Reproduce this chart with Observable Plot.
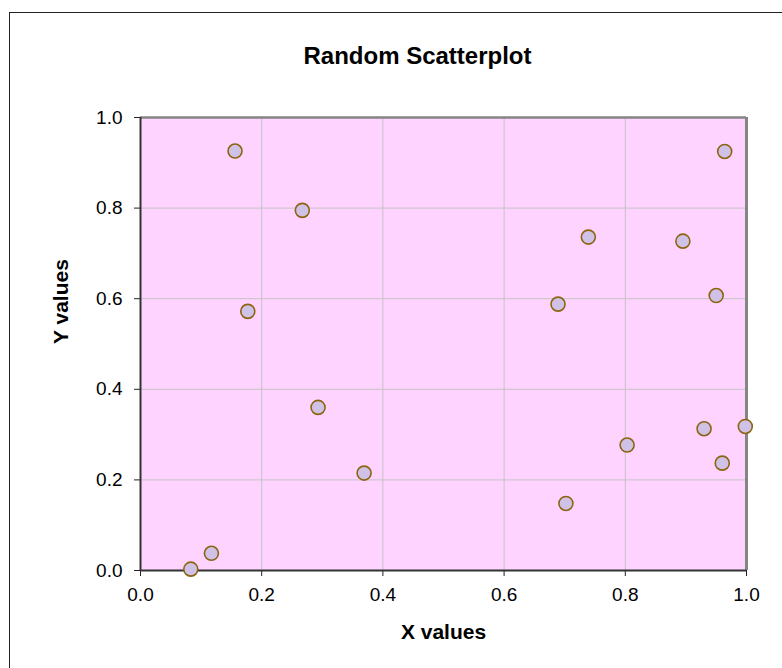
<!DOCTYPE html>
<html>
<head>
<meta charset="utf-8">
<script src="https://cdn.jsdelivr.net/npm/d3@7"></script>
<script src="https://cdn.jsdelivr.net/npm/@observablehq/plot@0.6"></script>
<style>
  html, body { margin: 0; padding: 0; background: #fff; overflow: hidden; }
  #wrap { position: relative; width: 782px; height: 668px; }
  #frame { position: absolute; left: 9px; top: 12px; width: 900px; height: 800px; border: 1px solid #222; box-sizing: border-box; pointer-events: none; }
  #chart { position: absolute; left: 0; top: 0; }
</style>
</head>
<body>
<div id="wrap"><div id="chart"></div><div id="frame"></div></div>
<script>
const titleText = "Random Scatterplot";
const xLabel = "X values";
const yLabel = "Y values";
const tickValues = [0, 0.2, 0.4, 0.6, 0.8, 1.0];
const xValues = [0.083, 0.117, 0.156, 0.177, 0.267, 0.293, 0.369, 0.739, 0.689, 0.964, 0.895, 0.950, 0.702, 0.803, 0.930, 0.998, 0.960];
const yValues = [0.003, 0.038, 0.926, 0.572, 0.795, 0.360, 0.215, 0.736, 0.588, 0.925, 0.727, 0.607, 0.148, 0.277, 0.313, 0.318, 0.237];

const points = xValues.map((x, i) => ({x, y: yValues[i]}));
const fmt = d3.format(".1f");
const font = "'Liberation Sans', Arial, sans-serif";

const chart = Plot.plot({
  width: 782,
  height: 668,
  marginLeft: 140,
  marginRight: 36,
  marginTop: 117,
  marginBottom: 98,
  style: {fontFamily: font, fontSize: "19px", color: "#000", background: "transparent"},
  x: {domain: [0, 1]},
  y: {domain: [0, 1]},
  marks: [
    Plot.frame({fill: "#ffd3ff", stroke: null}),
    Plot.gridX(tickValues, {stroke: "#c4c4c4", strokeOpacity: 1, strokeWidth: 1}),
    Plot.gridY(tickValues, {stroke: "#c4c4c4", strokeOpacity: 1, strokeWidth: 1}),
    Plot.ruleY([1], {stroke: "#858585", strokeWidth: 2.5}),
    Plot.ruleX([1], {stroke: "#858585", strokeWidth: 3}),
    Plot.axisX({ticks: tickValues, tickFormat: fmt, tickSize: 6, tickPadding: 11, label: null, fontSize: 19, stroke: "#222"}),
    Plot.axisY({ticks: tickValues, tickFormat: fmt, tickSize: 6, tickPadding: 12, label: null, fontSize: 19, stroke: "#222"}),
    Plot.ruleX([0], {stroke: "#333", strokeWidth: 2}),
    Plot.ruleY([0], {stroke: "#333", strokeWidth: 2}),
    Plot.dot(points, {x: "x", y: "y", r: 7, fill: "#d0c2e6", stroke: "#8c6410", strokeWidth: 1.6}),
    Plot.text([titleText], {frameAnchor: "top", dx: -26, dy: -61, fontSize: 24, fontWeight: "bold", lineAnchor: "middle", fill: "#000"}),
    Plot.text([xLabel], {frameAnchor: "bottom", dy: 62, fontSize: 21, fontWeight: "bold", lineAnchor: "middle", fill: "#000"}),
    Plot.text([yLabel], {frameAnchor: "left", dx: -79, rotate: -90, fontSize: 21, fontWeight: "bold", lineAnchor: "middle", fill: "#000"})
  ]
});
document.getElementById("chart").appendChild(chart);
</script>
</body>
</html>
